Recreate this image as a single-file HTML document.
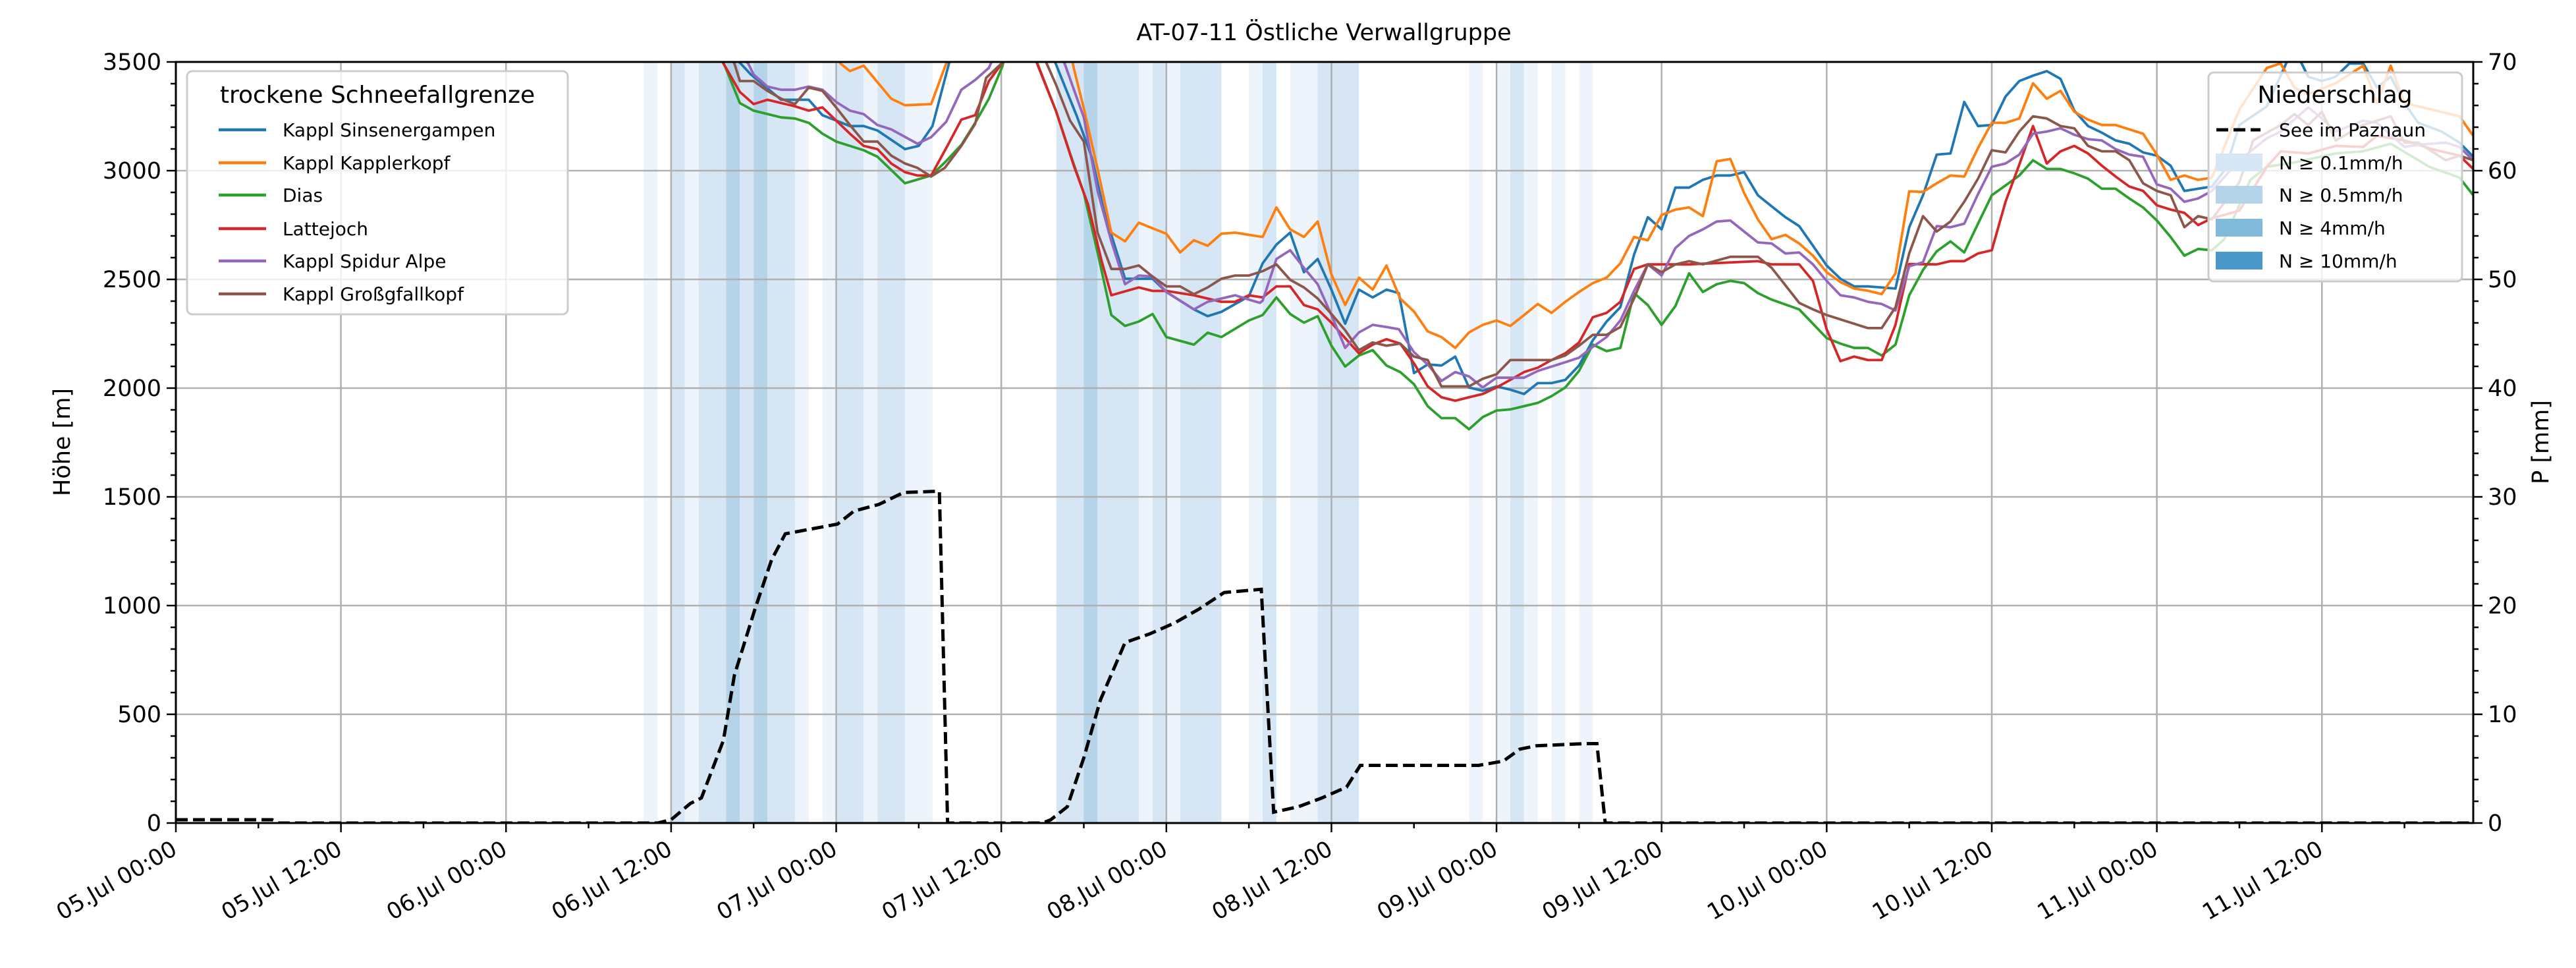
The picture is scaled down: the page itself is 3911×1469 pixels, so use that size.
<!DOCTYPE html>
<html><head><meta charset="utf-8"><style>
html,body{margin:0;padding:0;background:#fff;}
svg{display:block;font-family:"DejaVu Sans","Liberation Sans",sans-serif;}
</style></head><body>
<svg id="chart" width="3911" height="1469" viewBox="0 0 3911 1469" xmlns="http://www.w3.org/2000/svg">
<defs><clipPath id="plotclip"><rect x="267" y="94" width="3488" height="1155"/></clipPath></defs>
<rect width="3911" height="1469" fill="#fff"/>
<g id="bands" clip-path="url(#plotclip)"></g>
<g id="grid"></g>
<g id="lines" clip-path="url(#plotclip)"></g>
<g id="axes"></g>
<g id="legends"></g>
</svg>
<script>
// ---- data ----
const xTickHours=[0,12,24,36,48,60,72,84,96,108,120,132,144,156];
const xTickLabels=["05.Jul 00:00","05.Jul 12:00","06.Jul 00:00","06.Jul 12:00","07.Jul 00:00","07.Jul 12:00","08.Jul 00:00","08.Jul 12:00","09.Jul 00:00","09.Jul 12:00","10.Jul 00:00","10.Jul 12:00","11.Jul 00:00","11.Jul 12:00"];
const yTicks=[0,500,1000,1500,2000,2500,3000,3500];
const pTicks=[0,10,20,30,40,50,60,70];

const bandHours=[34,36,37,38,39,40,41,42,43,44,45,47,48,49,50,51,52,53,54,64,65,66,67,68,69,70,71,72,73,74,75,78,79,81,82,83,84,85,94,96,97,98,100,102];
const bandRates=[0.05,0.2,0.05,0.2,0.2,1,0.2,1,0.2,0.2,0.05,0.05,0.2,0.2,0.05,0.2,0.2,0.05,0.05,0.2,0.2,1,0.2,0.2,0.2,0.05,0.2,0.05,0.2,0.2,0.2,0.05,0.2,0.05,0.05,0.2,0.2,0.2,0.05,0.05,0.2,0.05,0.05,0.05];

const precipHours=[0,7,7.5,35,36,37.4,38.2,39.8,40.6,42.1,43.3,44.3,46,48.1,49.3,51.1,52.9,55,55.5,56.1,63,63.6,64.8,66,67.2,69,70.8,72.6,74.4,76.2,78.9,79.8,81.6,83.3,85.1,86.1,90,94.7,96.5,97.7,98.9,102.4,103.3,103.9,167];
const precipVals=[0.3,0.3,0,0,0.3,1.8,2.3,7.6,13.6,19.7,24.2,26.6,27,27.5,28.7,29.3,30.4,30.5,30.5,0,0,0.3,1.5,6,11.3,16.6,17.4,18.4,19.7,21.2,21.5,1,1.5,2.3,3.3,5.3,5.3,5.3,5.7,6.8,7.1,7.3,7.3,0,0];

const sinsHours=[38,41.8,44,46,47,49,50,51,53,54,55,56.2,58,62,65.5,66.6,67.5,69,71,72,74,75,76,78,79,80,81,82,83,84,85,86,87,88,88.9,90,91,92,93,94,95,96,97,98,99,100,101,102,103,104,105,106,107,108,109,110,111,112,113,114,115,116,117,118,119,120,121,122,123,125,126,127,128,129,130,131,132,133,134,135,136,137,138,139,140,141,142,143,144,145,146,147,148,149,150,152,153.4,154,155,156,157,158,159,160,161,162,163,164.7,166,167];
const sinsVals=[3700,3442,3326,3326,3255,3205,3205,3185,3099,3114,3205,3493,3800,3800,3250,3058,2806,2503,2503,2442,2362,2331,2351,2422,2574,2660,2715,2533,2594,2453,2296,2453,2417,2453,2437,2069,2109,2104,2145,2003,1988,2008,1993,1973,2023,2023,2038,2104,2220,2306,2372,2614,2786,2730,2922,2922,2958,2978,2978,2993,2887,2836,2786,2745,2655,2564,2503,2468,2468,2458,2740,2887,3074,3079,3316,3205,3210,3341,3412,3437,3458,3422,3276,3205,3175,3139,3124,3084,3069,3023,2907,2917,2927,3008,3210,3296,3493,3560,3432,3412,3432,3493,3493,3382,3432,3311,3220,3180,3129,3064];

const kapHours=[38,47,48.3,49,50,52,53,54.9,56,58,62,64.5,65.3,66,67,68,69,70,71,72,73,74,75,76,77,78,79,80,81,82,83,84,85,86,87,88,89,90,91,92,93,94,95,96,97,98,99,100,101,102,103,104,105,106,107,108,109,110,111,112,113,114,115,116,117,118,119,120,121,122,123,124,125,126,127,128,129,130,131,132,133,134,135,136,137,138,139,140,141,142,143,144,145,146,147,148,150,152,153,154,155,157,159,160,161,162,164,166,167];
const kapVals=[3700,3700,3493,3458,3483,3331,3301,3306,3493,3800,3800,3700,3463,3286,3008,2715,2675,2761,2735,2710,2624,2680,2655,2710,2715,2705,2695,2831,2730,2695,2766,2523,2382,2508,2453,2564,2412,2352,2261,2235,2185,2256,2291,2311,2286,2336,2387,2346,2397,2442,2483,2508,2574,2695,2680,2796,2821,2831,2791,3043,3054,2897,2776,2685,2705,2665,2609,2533,2488,2458,2448,2432,2528,2905,2902,2942,2978,2973,3104,3220,3220,3240,3402,3331,3367,3271,3235,3210,3210,3190,3170,3074,2958,2978,2958,2968,3281,3473,3493,3382,3351,3402,3483,3311,3483,3311,3281,3250,3160];

const diasHours=[38,39.8,41,42,44,45,46,47,48,50,51,53,54.9,55.9,57.1,58.1,59.1,60.1,61,62.6,64,65,66,67,68,69,70,71,72,74,75,76,78,79,80,81,82,83,84,85,86,87,88,89,90,91,92,93,94,95,96,97,98,99,100,101,102,103,104,105,106,107,108,109,110,111,112,113,114,115,116,118,120,121,122,123,124,125,126,127,128,129,130,131,132,133,134,135,136,137,138,139,140,141,142,143,144,145,146,147,148,148.9,150.8,152,154,157,159,161,163.8,166,167];
const diasVals=[3700,3498,3311,3276,3245,3240,3220,3170,3134,3094,3064,2942,2978,3038,3119,3220,3331,3483,3800,3498,3271,3079,2897,2624,2336,2286,2306,2341,2235,2200,2255,2235,2311,2336,2417,2341,2301,2331,2195,2099,2150,2175,2104,2074,2018,1917,1862,1862,1811,1867,1897,1902,1917,1932,1963,2003,2079,2200,2170,2185,2437,2382,2291,2377,2528,2442,2478,2493,2483,2437,2407,2362,2230,2205,2185,2185,2150,2200,2427,2543,2629,2675,2624,2756,2887,2932,2978,3048,3008,3008,2988,2963,2917,2917,2872,2831,2771,2695,2609,2640,2634,2685,2958,3018,3038,3079,3089,3124,3018,2968,2887];

const latHours=[38,39.8,41,42,43,45,46,47,49,50,51,52,53,53.9,54.9,56,57.1,58.1,59.1,60.1,61,62.6,64,65.3,66.3,67.3,68,70,71,72,74,76,77,78,79,80,81,82,83,84,85,86,87,88,89,90,91,92,93,94,95,96,97,98,99,100,101,102,103,104,105,106,107,110,115,116,118,119,120,121,122,123,124,125,126,128,129,130,131,132,133,134,135,136,137,138,139,140,141,142,143,144,145,146,147,148,150,152,153,155,157,159,160,162,164,166,167];
const latVals=[3700,3493,3362,3306,3326,3296,3276,3291,3170,3114,3099,3033,2993,2978,2978,3104,3235,3255,3412,3498,3800,3493,3271,3018,2846,2584,2427,2463,2447,2447,2427,2397,2397,2427,2417,2468,2468,2382,2362,2301,2230,2160,2200,2225,2205,2114,2008,1958,1942,1958,1973,2003,2038,2074,2094,2129,2160,2210,2326,2346,2397,2548,2569,2569,2584,2569,2569,2493,2271,2124,2145,2129,2129,2291,2571,2569,2584,2584,2619,2634,2857,3028,3205,3033,3089,3114,3079,3023,2973,2927,2907,2841,2821,2806,2750,2781,2816,3018,3089,3079,3114,3109,3160,3139,3099,3069,3008];

const spiHours=[38,41.6,42,43,44,45,46,47,48,49,50,51,52,53.9,54.9,56,57.1,58.1,59.1,60,62,64.6,66,67,68,69,70,71,72,74,75,76,77,78,78.8,79,80,81,82,83,84,85,86,87,88,88.9,90,91,92,93,94,95,96,97,98,99,100,101,102,103,104,105,106,107,108,109,110,111,112,113,114,115,116,117,118,119,120,121,122,123,124,125,126,127,128,129,130,131,132,133,134,135,136,137,138,139,140,141,142,143,144,145,146,147,148,150,152,153,155,156,157,159,160,162,163,165,166,167];
const spiVals=[3700,3493,3442,3387,3372,3372,3387,3372,3316,3276,3260,3210,3190,3124,3154,3225,3372,3417,3473,3600,3800,3493,3245,2907,2675,2478,2518,2513,2442,2362,2397,2412,2427,2407,2392,2402,2594,2634,2553,2478,2336,2185,2256,2291,2281,2271,2165,2109,2033,2074,2054,2003,2048,2048,2048,2079,2099,2119,2140,2190,2235,2311,2447,2569,2518,2644,2700,2730,2766,2771,2720,2670,2665,2619,2624,2569,2493,2427,2417,2397,2387,2357,2560,2579,2745,2740,2756,2892,3018,3033,3074,3170,3180,3195,3165,3145,3139,3099,3074,3064,2937,2917,2857,2872,2907,3048,3149,3180,3291,3240,3180,3230,3220,3109,3119,3129,3109,3048];

const grossHours=[38,40.6,41,42,43,44,45,46,47,48,49,50,51,52,53,53.9,54.9,55.9,57.1,58.1,58.9,60.1,61,63.3,64,65,66,67,68,69,70,71,72,73,74,75,76,77,78,79,80,81,82,83,84,85,86,87,88,89,90,91,92,93,94,95,96,97,98,100,101,102,103,104,105,106,107,108,109,110,111,113,115,116,117,118,119,120,121,122,123,124,125,126,127,128,129,130,131,132,133,134,135,136,137,138,139,140,141,142,143,144,145,146,147,148,150,151,153,154,155,156,157,159,161,162,163,165,166,167];
const grossVals=[3700,3493,3412,3412,3367,3331,3306,3382,3367,3291,3210,3134,3134,3069,3033,3013,2973,3013,3114,3215,3427,3498,3800,3493,3392,3230,3134,2715,2548,2548,2564,2513,2468,2468,2432,2463,2503,2518,2518,2538,2569,2498,2463,2412,2341,2266,2175,2210,2195,2205,2145,2129,2008,2008,2008,2043,2064,2129,2129,2129,2150,2195,2245,2245,2281,2412,2569,2533,2569,2584,2569,2604,2604,2553,2473,2392,2362,2336,2316,2296,2276,2276,2372,2620,2791,2720,2766,2857,2963,3094,3084,3180,3250,3240,3205,3195,3114,3089,3089,3048,2942,2907,2887,2740,2791,2776,2947,3139,3210,3260,3210,3271,3139,3210,3250,3129,3129,3048,3069,3048];

// ---- axis functions ----
const X0=267,X1=3755,Y0=94,Y1=1249,HMAX=167;
function xs(h){return X0+h*(X1-X0)/HMAX;}
function ys(v){return Y1-v*(Y1-Y0)/3500;}
function yp(p){return Y1-p*(Y1-Y0)/70;}
const NS="http://www.w3.org/2000/svg";
function mk(tag,attrs,parent){const e=document.createElementNS(NS,tag);for(const k in attrs)e.setAttribute(k,attrs[k]);parent.appendChild(e);return e;}
const gB=document.getElementById('bands'),gG=document.getElementById('grid'),gL=document.getElementById('lines'),gA=document.getElementById('axes'),gLeg=document.getElementById('legends');

// bands
function bandColor(r){if(r>=10)return'#4a98c9';if(r>=4)return'#82badb';if(r>=0.5)return'#b6d4e9';if(r>=0.1)return'#d6e6f4';return'#eef4fb';}
bandHours.forEach((h,i)=>{
  const r=mk('rect',{x:xs(h),y:Y0,width:xs(h+1)-xs(h),height:Y1-Y0,fill:bandColor(bandRates[i])},gB);
  
  
});
// grid
xTickHours.forEach(h=>{const l=mk('line',{x1:xs(h),x2:xs(h),y1:Y0,y2:Y1,stroke:'#b0b0b0','stroke-width':2.5},gG);
  
  });
yTicks.forEach(v=>{const l=mk('line',{x1:X0,x2:X1,y1:ys(v),y2:ys(v),stroke:'#b0b0b0','stroke-width':2.5},gG);
  
  });

// lines
function path(hs,vs,f){return hs.map((h,i)=>(i?'L':'M')+xs(h).toFixed(1)+','+f(vs[i]).toFixed(1)).join('');}
const series=[
 ['Kappl Sinsenergampen','#1f77b4',sinsHours,sinsVals,'line-kappl-sinsenergampen'],
 ['Kappl Kapplerkopf','#ff7f0e',kapHours,kapVals,'line-kappl-kapplerkopf'],
 ['Dias','#2ca02c',diasHours,diasVals,'line-dias'],
 ['Lattejoch','#d62728',latHours,latVals,'line-lattejoch'],
 ['Kappl Spidur Alpe','#9467bd',spiHours,spiVals,'line-kappl-spidur-alpe'],
 ['Kappl Großgfallkopf','#8c564b',grossHours,grossVals,'line-kappl-grossgfallkopf']];
series.forEach(s=>{const p=mk('path',{d:path(s[2],s[3],ys),fill:'none',stroke:s[1],'stroke-width':3.8,'stroke-linejoin':'round'},gL);
  
  });
const pp=mk('path',{d:path(precipHours,precipVals,yp),fill:'none',stroke:'#000','stroke-width':5,'stroke-dasharray':'18,8'},gL);



// axes frame
const fr=mk('rect',{x:X0,y:Y0,width:X1-X0,height:Y1-Y0,fill:'none',stroke:'#000','stroke-width':3},gA);


for(let h=0;h<=HMAX;h+=6){const major=h%12===0;mk('line',{x1:xs(h),x2:xs(h),y1:Y1,y2:Y1+(major?14:8),stroke:'#000','stroke-width':2.5},gA);}
xTickHours.forEach((h,i)=>{const t=mk('text',{transform:`translate(${xs(h)+4},${Y1+46}) rotate(-30)`,'text-anchor':'end','font-size':34},gA);t.textContent=xTickLabels[i];
  
  });
for(let v=0;v<=3500;v+=100){const major=v%500===0;mk('line',{x1:X0,x2:X0-(major?14:8),y1:ys(v),y2:ys(v),stroke:'#000','stroke-width':2.5},gA);}
yTicks.forEach(v=>{const t=mk('text',{x:X0-22,y:ys(v)+12,'text-anchor':'end','font-size':35},gA);t.textContent=v;
  
  });
for(let p=0;p<=70;p+=2){const major=p%10===0;mk('line',{x1:X1,x2:X1+(major?14:8),y1:yp(p),y2:yp(p),stroke:'#000','stroke-width':2.5},gA);}
pTicks.forEach(p=>{const t=mk('text',{x:X1+22,y:yp(p)+12,'font-size':35},gA);t.textContent=p;
  
  });

// legends
const lb=mk('rect',{x:284,y:108,width:578,height:369,rx:8,fill:'#fff','fill-opacity':0.8,stroke:'#ccc','stroke-width':3},gLeg);


const lt=mk('text',{x:573,y:156,'text-anchor':'middle','font-size':36},gLeg);lt.textContent='trockene Schneefallgrenze';


const ey=[197,247,296,347,396,446];
series.forEach((s,i)=>{mk('line',{x1:332,x2:404,y1:ey[i],y2:ey[i],stroke:s[1],'stroke-width':4.5},gLeg);
  const t=mk('text',{x:429,y:ey[i]+10,'font-size':28},gLeg);t.textContent=s[0];
  
  });
const rb=mk('rect',{x:3353,y:110,width:385,height:317,rx:8,fill:'#fff','fill-opacity':0.8,stroke:'#ccc','stroke-width':3},gLeg);


const rt=mk('text',{x:3545,y:156,'text-anchor':'middle','font-size':36},gLeg);rt.textContent='Niederschlag';


mk('line',{x1:3365,x2:3432,y1:197,y2:197,stroke:'#000','stroke-width':5,'stroke-dasharray':'18,8'},gLeg);
const t0=mk('text',{x:3460,y:207,'font-size':28},gLeg);t0.textContent='See im Paznaun';


const legLabels=['N ≥ 0.1mm/h','N ≥ 0.5mm/h','N ≥ 4mm/h','N ≥ 10mm/h'];
const legCols=['#d6e6f4','#b6d4e9','#82badb','#4a98c9'];
[233,282,332,382].forEach((y,i)=>{mk('rect',{x:3364,y:y,width:71,height:27,fill:legCols[i]},gLeg);
  const t=mk('text',{x:3460,y:y+24,'font-size':28},gLeg);t.textContent=legLabels[i];
  
  });
</script>
<svg width="0" height="0" style="position:absolute"></svg>
<div style="position:absolute;left:0;top:0;width:3911px;height:1469px;pointer-events:none">
<div style="position:absolute;left:0;width:4020px;top:30px;text-align:center;font:35px 'DejaVu Sans','Liberation Sans',sans-serif;">AT-07-11 Östliche Verwallgruppe</div>
<div style="position:absolute;left:95px;top:671px;transform:translate(-50%,-50%) rotate(-90deg);white-space:nowrap;font:35px 'DejaVu Sans','Liberation Sans',sans-serif;">Höhe [m]</div>
<div style="position:absolute;left:3858px;top:671px;transform:translate(-50%,-50%) rotate(-90deg);white-space:nowrap;font:35px 'DejaVu Sans','Liberation Sans',sans-serif;">P [mm]</div>
</div>
</body></html>
